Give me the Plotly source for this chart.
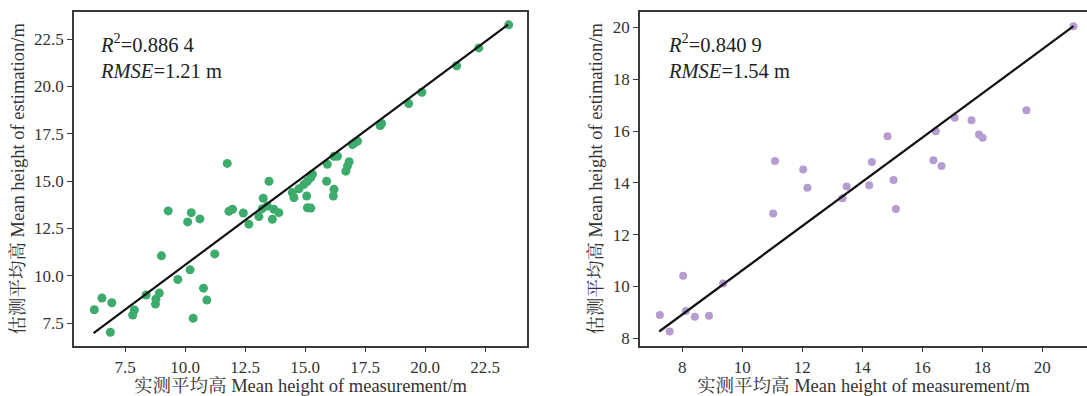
import plotly.graph_objects as go

# Left panel: measured vs estimated mean height
left_meas = [6.22, 6.54, 6.95, 6.89, 7.82, 7.89, 8.38, 8.77, 8.79, 8.93, 9.02, 9.30,
             9.70, 10.11, 10.21, 10.26, 10.34, 10.62, 10.77, 10.91, 11.24, 11.76,
             11.83, 11.98, 12.43, 12.66, 13.08, 13.22, 13.26, 13.43, 13.50, 13.64,
             13.70, 13.91, 14.47, 14.54, 14.75, 14.96, 15.07, 15.10, 15.24, 15.10,
             15.24, 15.31, 15.90, 15.93, 16.21, 16.18, 16.21, 16.35, 16.70, 16.77,
             16.84, 16.98, 17.10, 17.19, 18.13, 18.19, 19.32, 19.87, 21.32, 22.24, 23.49]
left_est = [8.21, 8.83, 8.58, 7.02, 7.93, 8.20, 8.99, 8.51, 8.78, 9.09, 11.06, 13.43,
            9.81, 12.85, 10.32, 13.34, 7.76, 13.01, 9.35, 8.72, 11.16, 15.94,
            13.41, 13.52, 13.32, 12.73, 13.13, 13.55, 14.10, 13.69, 15.00, 12.99,
            13.52, 13.34, 14.40, 14.13, 14.60, 14.83, 14.22, 15.00, 15.19, 13.60,
            13.58, 15.37, 15.00, 15.89, 14.57, 14.22, 16.32, 16.32, 15.53, 15.80,
            16.03, 16.94, 17.05, 17.12, 17.94, 18.05, 19.10, 19.70, 21.10, 22.04, 23.26]
left_fit_x = [6.19, 23.46]
left_fit_y = [6.98, 23.27]

# Right panel
right_meas = [7.25, 7.58, 8.03, 8.12, 8.42, 8.89, 9.36, 11.03, 11.09, 12.03, 12.17,
              13.34, 13.48, 14.23, 14.32, 14.84, 15.04, 15.12, 16.37, 16.45, 16.64,
              17.08, 17.64, 17.89, 18.01, 19.47, 21.04]
right_est = [8.90, 8.26, 10.41, 9.05, 8.83, 8.87, 10.11, 12.82, 14.84, 14.52, 13.81,
             13.41, 13.86, 13.91, 14.81, 15.80, 14.11, 12.99, 14.87, 15.99, 14.65,
             16.51, 16.42, 15.87, 15.74, 16.80, 20.05]
right_fit_x = [7.23, 21.04]
right_fit_y = [8.26, 20.05]

left_ticks = [7.5, 10.0, 12.5, 15.0, 17.5, 20.0, 22.5]
left_ticktext = ["7.5", "10.0", "12.5", "15.0", "17.5", "20.0", "22.5"]
right_ticks = [8, 10, 12, 14, 16, 18, 20]

x_title = "实测平均高 Mean height of measurement/m"
y_title = "估测平均高 Mean height of estimation/m"
left_note = "<i>R</i><sup>2</sup>=0.886 4<br><i>RMSE</i>=1.21 m"
right_note = "<i>R</i><sup>2</sup>=0.840 9<br><i>RMSE</i>=1.54 m"

FONT = "Liberation Serif, Noto Serif CJK SC, Noto Sans CJK SC, serif"
W, H = 1087, 396

fig = go.Figure()
fig.add_trace(go.Scatter(x=left_meas, y=left_est, mode="markers",
                         marker=dict(color="#3cab6b", size=9, line=dict(width=0)),
                         xaxis="x", yaxis="y", showlegend=False))
fig.add_trace(go.Scatter(x=left_fit_x, y=left_fit_y, mode="lines",
                         line=dict(color="#111111", width=2.2),
                         xaxis="x", yaxis="y", showlegend=False))
fig.add_trace(go.Scatter(x=right_meas, y=right_est, mode="markers",
                         marker=dict(color="#b79cd1", size=8, line=dict(width=0)),
                         xaxis="x2", yaxis="y2", showlegend=False))
fig.add_trace(go.Scatter(x=right_fit_x, y=right_fit_y, mode="lines",
                         line=dict(color="#111111", width=2.2),
                         xaxis="x2", yaxis="y2", showlegend=False))

axis_common = dict(showgrid=False, zeroline=False, showline=True, linecolor="#3a3a3a",
                   linewidth=1.5, ticks="outside", ticklen=5, tickwidth=1.2,
                   tickcolor="#3a3a3a", tickfont=dict(family=FONT, size=17, color="#333333"),
                   title_font=dict(family=FONT, size=18.5, color="#333333"))

ydom = [1 - 347.5 / H, 1 - 12 / H]

fig.update_layout(
    width=W, height=H, margin=dict(l=0, r=0, t=0, b=0),
    paper_bgcolor="white", plot_bgcolor="white",
    xaxis=dict(domain=[74 / W, 527 / W], range=[5.375, 24.25], mirror=True,
               tickvals=left_ticks, ticktext=left_ticktext,
               title=dict(text=x_title, standoff=5), anchor="y", **axis_common),
    yaxis=dict(domain=ydom, range=[6.31, 23.94], mirror=True,
               tickvals=left_ticks, ticktext=left_ticktext,
               title=dict(text=y_title, standoff=5), anchor="x", **axis_common),
    xaxis2=dict(domain=[640 / W, 1.0], range=[6.59, 21.49], mirror=True,
                tickvals=right_ticks,
                title=dict(text=x_title, standoff=5), anchor="y2", **axis_common),
    yaxis2=dict(domain=ydom, range=[7.71, 20.6], mirror=False,
                tickvals=right_ticks,
                title=dict(text=y_title, standoff=5), anchor="x2", **axis_common),
    annotations=[
        dict(text=left_note, xref="paper", yref="paper", x=98 / W, y=1 - 28 / H,
             xanchor="left", yanchor="top", showarrow=False, align="left",
             font=dict(family=FONT, size=20.5, color="#222222")),
        dict(text=right_note, xref="paper", yref="paper", x=666 / W, y=1 - 28 / H,
             xanchor="left", yanchor="top", showarrow=False, align="left",
             font=dict(family=FONT, size=20.5, color="#222222")),
    ],
)

fig.write_html("out.html")
